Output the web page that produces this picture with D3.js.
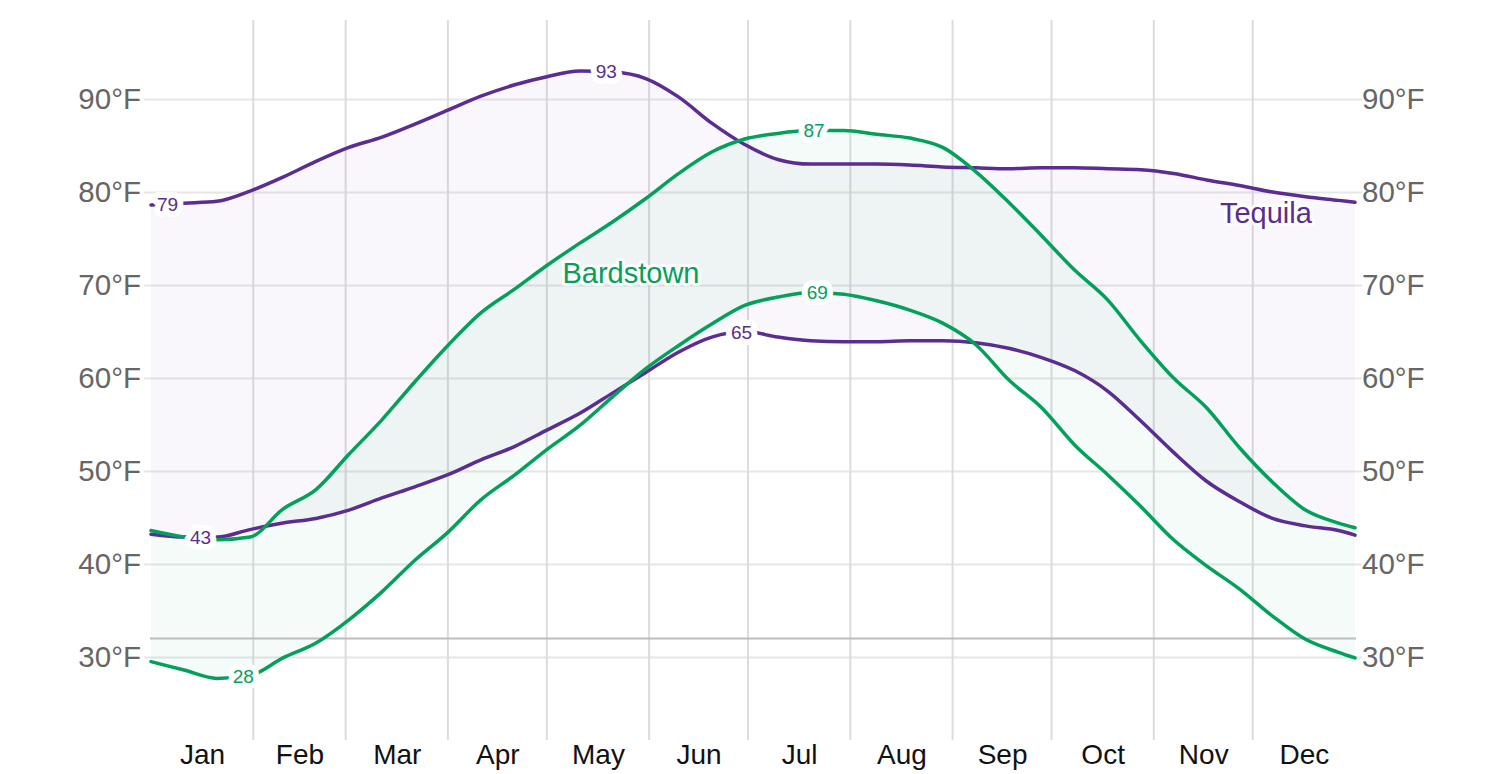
<!DOCTYPE html>
<html>
<head>
<meta charset="utf-8">
<script src="https://cdn.jsdelivr.net/npm/d3@7"></script>
<style>
  html, body { margin: 0; padding: 0; background: #fff; }
  svg { display: block; font-family: "Liberation Sans", Arial, Helvetica, sans-serif; }
</style>
</head>
<body>
<svg id="chart" width="1506" height="774"></svg>
<script>
// ---- data ----
const days = [0,10,20,30,40,50,60,70,80,90,100,110,120,130,140,150,160,170,180,190,200,210,220,230,240,250,260,270,280,290,300,310,320,330,340,350,360,365];
const tequilaHigh = [78.6,78.8,79.0,80.1,81.6,83.3,84.8,85.9,87.3,88.8,90.3,91.5,92.4,93.0,92.9,92.2,90.2,87.4,85.1,83.5,83.0,83.0,83.0,82.9,82.7,82.6,82.5,82.6,82.6,82.5,82.4,82.0,81.3,80.7,80.0,79.5,79.1,78.9];
const tequilaLow = [43.2,42.9,42.9,43.7,44.4,44.9,45.8,47.1,48.3,49.6,51.2,52.6,54.4,56.2,58.4,60.6,62.8,64.4,65.0,64.4,64.0,63.9,63.9,64.0,64.0,63.8,63.2,62.2,60.8,58.6,55.4,52.0,48.9,46.7,44.9,44.1,43.6,43.1];
const bardstownHigh = [43.6,42.9,42.6,42.9,45.9,48.0,51.8,55.5,59.6,63.5,67.0,69.5,72.1,74.5,76.8,79.3,82.0,84.3,85.7,86.3,86.6,86.6,86.2,85.8,84.8,82.2,78.9,75.3,71.6,68.4,64.0,60.0,56.8,52.5,48.8,45.8,44.4,43.9];
const bardstownLow = [29.5,28.6,27.7,28.0,29.9,31.5,34.0,37.0,40.4,43.4,46.9,49.5,52.3,54.9,58.0,61.0,63.5,65.8,67.8,68.7,69.2,69.0,68.3,67.3,65.9,63.6,59.8,56.8,52.8,49.6,46.2,42.6,39.8,37.3,34.4,31.9,30.5,29.9];

const months = ["Jan","Feb","Mar","Apr","May","Jun","Jul","Aug","Sep","Oct","Nov","Dec"];
const monthStarts = [0,31,59,90,120,151,181,212,243,273,304,334,365];
const yTicks = [30,40,50,60,70,80,90];
const freezing = 32;

// value labels: [series key, day, text]
const valueLabelSeries = ["tequilaHigh","tequilaLow","bardstownLow","tequilaHigh","bardstownHigh","tequilaLow","bardstownLow"];
const valueLabelDays   = [5, 15, 28, 138, 201, 179, 202];
const valueLabelTexts  = ["79","43","28","93","87","65","69"];

// series name labels
const seriesNames = ["Bardstown","Tequila"];
const seriesNameDays = [145.5, 338];
const seriesNameValues = [70.2, 76.7];

const purple = "#5b2c91";
const green = "#03a05b";

// ---- scales ----
const svg = d3.select("#chart");
const x = d3.scaleLinear().domain([0,365]).range([151,1355]);
const y = d3.scaleLinear().domain([30,90]).range([657,99]);

const seriesData = {
  tequilaHigh, tequilaLow, bardstownHigh, bardstownLow
};

// ---- horizontal grid (via axis) ----
const grid = svg.append("g")
  .attr("transform", "translate(144,0)")
  .call(d3.axisRight(y).tickValues(yTicks).tickSize(1218).tickFormat(""));
grid.select(".domain").remove();
grid.selectAll("line").attr("stroke", "#e6e6e6").attr("stroke-width", 2);

// ---- vertical month boundaries ----
svg.append("g").selectAll("line")
  .data(monthStarts.slice(1, 12))
  .join("line")
  .attr("x1", d => x(d)).attr("x2", d => x(d))
  .attr("y1", 20).attr("y2", 740)
  .attr("stroke", "#dcdcdc").attr("stroke-width", 2);

// ---- areas ----
const pts = (hi, lo) => days.map((d, i) => ({d, hi: hi[i], lo: lo[i]}));
const area = d3.area().x(p => x(p.d)).y0(p => y(p.lo)).y1(p => y(p.hi)).curve(d3.curveMonotoneX);
svg.append("path").datum(pts(tequilaHigh, tequilaLow)).attr("d", area)
  .attr("fill", purple).attr("fill-opacity", 0.04);
svg.append("path").datum(pts(bardstownHigh, bardstownLow)).attr("d", area)
  .attr("fill", green).attr("fill-opacity", 0.045);

// ---- freezing line ----
svg.append("line")
  .attr("x1", 150).attr("x2", 1356)
  .attr("y1", y(freezing)).attr("y2", y(freezing))
  .attr("stroke", "#bdbdbd").attr("stroke-width", 2);

// ---- lines ----
const line = d3.line().x((v, i) => x(days[i])).y(v => y(v)).curve(d3.curveMonotoneX);
[[tequilaHigh, purple],[tequilaLow, purple],[bardstownHigh, green],[bardstownLow, green]].forEach(([s, c]) => {
  svg.append("path").datum(s).attr("d", line)
    .attr("fill", "none").attr("stroke", c).attr("stroke-width", 3.5)
    .attr("stroke-linejoin", "round").attr("stroke-linecap", "round");
});

// ---- value labels ----
function valueAt(arr, day) {
  const i = d3.bisectRight(days, day) - 1;
  const j = Math.min(i + 1, days.length - 1);
  const t = j === i ? 0 : (day - days[i]) / (days[j] - days[i]);
  return arr[i] + (arr[j] - arr[i]) * t;
}
const vl = valueLabelTexts.map((t, i) => ({
  text: t, day: valueLabelDays[i], key: valueLabelSeries[i],
  v: valueAt(seriesData[valueLabelSeries[i]], valueLabelDays[i])
}));
svg.append("g").selectAll("text")
  .data(vl).join("text")
  .attr("x", d => x(d.day)).attr("y", d => y(d.v))
  .attr("dy", "0.35em")
  .attr("text-anchor", "middle")
  .attr("font-size", 19)
  .attr("fill", d => d.key.startsWith("tequila") ? purple : green)
  .attr("stroke", "#fff").attr("stroke-width", 12)
  .attr("stroke-linejoin", "round")
  .attr("paint-order", "stroke")
  .text(d => d.text);

// ---- series name labels ----
svg.append("g").selectAll("text")
  .data(seriesNames).join("text")
  .attr("x", (d, i) => x(seriesNameDays[i]))
  .attr("y", (d, i) => y(seriesNameValues[i]))
  .attr("text-anchor", "middle")
  .attr("font-size", 29)
  .attr("fill", (d, i) => i === 0 ? green : purple)
  .attr("stroke", "#fff").attr("stroke-width", 6).attr("stroke-opacity", 0.9)
  .attr("stroke-linejoin", "round")
  .attr("paint-order", "stroke")
  .text(d => d);

// ---- y axes labels ----
const fmt = d => d + "°F";
const yl = svg.append("g").attr("transform", "translate(141,0)")
  .call(d3.axisLeft(y).tickValues(yTicks).tickSize(0).tickPadding(0).tickFormat(fmt));
const yr = svg.append("g").attr("transform", "translate(1362,0)")
  .call(d3.axisRight(y).tickValues(yTicks).tickSize(0).tickPadding(0).tickFormat(fmt));
[yl, yr].forEach(g => {
  g.select(".domain").remove();
  g.selectAll("text").attr("font-size", 29.5).attr("fill", "#666")
    .attr("font-family", "'Liberation Sans', Arial, Helvetica, sans-serif");
});

// ---- month labels ----
const mid = months.map((m, i) => (monthStarts[i] + monthStarts[i + 1]) / 2);
const xa = svg.append("g").attr("transform", "translate(0,740)")
  .call(d3.axisBottom(x).tickValues(mid).tickSize(0).tickPadding(0)
    .tickFormat((d, i) => months[i]));
xa.select(".domain").remove();
xa.selectAll("text").attr("font-size", 28).attr("fill", "#111")
  .attr("dy", null).attr("y", 24)
  .attr("font-family", "'Liberation Sans', Arial, Helvetica, sans-serif");
</script>
</body>
</html>
